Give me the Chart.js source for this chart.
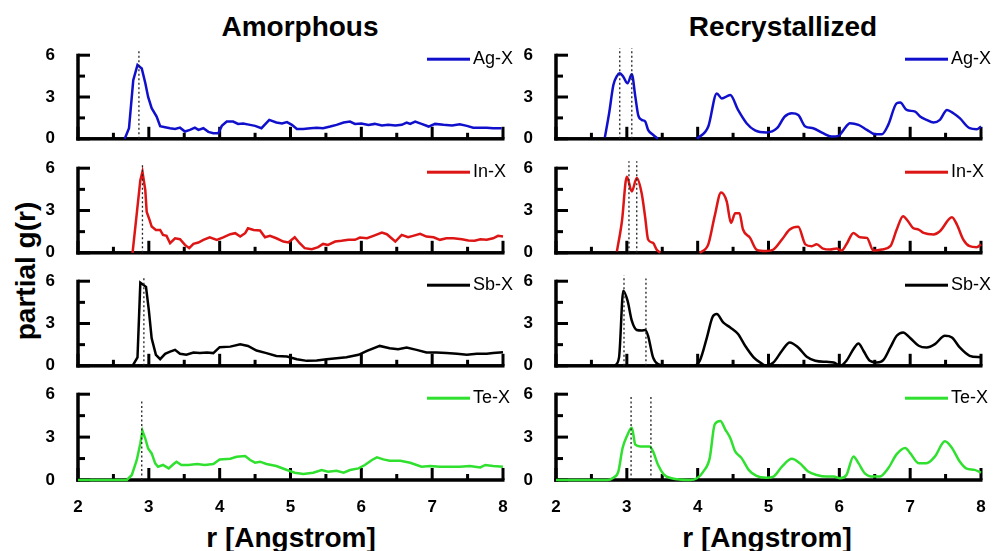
<!DOCTYPE html>
<html>
<head>
<meta charset="utf-8">
<script src="https://cdn.jsdelivr.net/npm/chart.js@4.4.0/dist/chart.umd.min.js"></script>
<style>
  body { margin: 0; background: #fff; width: 995px; height: 551px; overflow: hidden; position: relative;
         font-family: "Liberation Sans", Arial, Helvetica, sans-serif; }
  canvas { position: absolute; }
  .txt { position: absolute; font-weight: bold; white-space: nowrap; line-height: 1; color: #000;
         transform: translate(-50%, -50%); }
</style>
</head>
<body>
<div class="txt" style="left:300px;top:27px;font-size:28px">Amorphous</div>
<div class="txt" style="left:783px;top:27px;font-size:28px">Recrystallized</div>
<div class="txt" style="left:291px;top:538px;font-size:28px">r [Angstrom]</div>
<div class="txt" style="left:767px;top:538px;font-size:28px">r [Angstrom]</div>
<div class="txt" style="left:26px;top:271px;font-size:28px;transform:translate(-50%,-50%) rotate(-90deg)">partial g(r)</div>

<script>
// partial g(r), as [r, g] pairs (null = line hidden on the axis)
const agAmor = [[2.66,0],[2.72,0.76],[2.78,4.2],[2.84,5.3],[2.90,5.05],[2.95,4.0],[2.99,3.0],[3.04,2.2],[3.11,1.6],[3.16,0.9],[3.23,0.83],[3.30,0.76],[3.37,0.7],[3.44,0.8],[3.51,0.52],[3.58,0.64],[3.65,0.8],[3.70,0.64],[3.77,0.76],[3.84,0.5],[3.91,0.4],[3.98,0.4],[4.03,0.93],[4.10,1.24],[4.19,1.24],[4.26,1.07],[4.33,1.1],[4.43,1.0],[4.50,0.93],[4.59,0.76],[4.70,1.36],[4.80,1.17],[4.88,1.1],[4.95,1.2],[5.02,1.0],[5.09,0.7],[5.18,0.7],[5.28,0.76],[5.37,0.8],[5.46,0.76],[5.56,0.88],[5.65,1.0],[5.75,1.17],[5.84,1.24],[5.91,1.07],[6.00,1.1],[6.10,1.0],[6.19,1.07],[6.29,0.95],[6.38,1.0],[6.48,0.95],[6.57,1.0],[6.64,1.17],[6.69,1.07],[6.76,1.24],[6.85,1.07],[6.95,0.88],[7.04,1.07],[7.16,1.0],[7.28,0.95],[7.39,1.05],[7.49,0.93],[7.58,0.8],[7.68,0.8],[7.77,0.8],[7.86,0.76],[7.98,0.76]];
const inAmor = [[2.77,0],[2.83,2.8],[2.88,5.15],[2.91,5.75],[2.95,4.45],[2.97,2.9],[3.01,2.33],[3.04,1.86],[3.10,1.62],[3.16,1.62],[3.20,1.27],[3.25,1.2],[3.30,0.68],[3.37,1.03],[3.44,0.96],[3.51,0.56],[3.57,0.33],[3.63,0.63],[3.70,0.73],[3.77,0.92],[3.86,1.1],[3.96,0.92],[4.05,1.1],[4.15,1.32],[4.22,1.39],[4.29,1.15],[4.36,1.39],[4.40,1.74],[4.48,1.62],[4.57,1.58],[4.64,1.1],[4.71,1.2],[4.80,1.03],[4.90,0.8],[4.97,0.73],[5.06,1.1],[5.13,0.68],[5.20,0.33],[5.30,0.26],[5.39,0.4],[5.46,0.63],[5.53,0.56],[5.63,0.8],[5.72,0.85],[5.82,0.92],[5.91,0.92],[5.98,1.08],[6.08,1.03],[6.17,1.2],[6.29,1.43],[6.36,1.32],[6.48,0.8],[6.57,1.27],[6.66,1.1],[6.73,1.2],[6.83,1.34],[6.92,1.15],[7.02,1.1],[7.11,0.92],[7.20,1.03],[7.30,1.03],[7.42,0.96],[7.51,0.87],[7.60,0.85],[7.68,0.96],[7.77,0.92],[7.86,1.03],[7.93,1.2],[8.00,1.15]];
const sbAmor = [[2.77,0],[2.84,0.6],[2.88,5.9],[2.96,5.6],[3.00,3.95],[3.04,1.95],[3.10,0.78],[3.16,0.47],[3.23,0.85],[3.30,1.0],[3.37,1.13],[3.44,0.85],[3.53,0.78],[3.63,0.94],[3.72,0.9],[3.82,0.94],[3.91,0.9],[4.00,1.32],[4.15,1.36],[4.29,1.53],[4.40,1.41],[4.52,1.08],[4.66,0.9],[4.80,0.7],[4.95,0.66],[5.09,0.47],[5.23,0.35],[5.37,0.38],[5.51,0.47],[5.65,0.54],[5.79,0.6],[5.96,0.78],[6.08,1.06],[6.26,1.41],[6.40,1.25],[6.52,1.18],[6.64,1.29],[6.78,1.13],[6.92,0.94],[7.06,0.94],[7.20,0.9],[7.35,0.85],[7.49,0.78],[7.63,0.85],[7.77,0.85],[7.86,0.9],[8.00,0.96]];
const teAmor = [[2.00,0],[2.69,0],[2.76,0.35],[2.83,1.4],[2.88,2.56],[2.91,3.44],[2.95,2.9],[2.99,2.2],[3.04,1.86],[3.09,1.16],[3.13,0.93],[3.20,1.05],[3.28,0.81],[3.35,1.12],[3.39,1.28],[3.46,1.05],[3.56,1.05],[3.68,1.12],[3.79,1.05],[3.91,1.12],[4.00,1.44],[4.15,1.49],[4.24,1.63],[4.36,1.67],[4.43,1.4],[4.50,1.21],[4.57,1.28],[4.66,1.12],[4.80,0.98],[4.95,0.7],[5.06,0.51],[5.18,0.42],[5.32,0.51],[5.44,0.7],[5.53,0.58],[5.65,0.65],[5.75,0.51],[5.84,0.7],[5.96,0.81],[6.05,1.05],[6.15,1.4],[6.22,1.58],[6.31,1.44],[6.40,1.35],[6.55,1.35],[6.69,1.21],[6.85,0.93],[6.97,0.98],[7.11,0.93],[7.25,0.93],[7.39,0.93],[7.53,0.98],[7.68,0.88],[7.75,1.05],[7.86,0.98],[8.00,0.93]];

const agCryst = [[2.69,0.1],[2.75,1.83],[2.81,3.86],[2.86,4.5],[2.90,4.7],[2.95,4.45],[3.01,3.98],[3.07,4.64],[3.12,3.02],[3.16,1.71],[3.21,1.36],[3.26,1.24],[3.30,0.64],[3.37,0.29],[3.44,0],[3.70,null],[3.99,0],[4.15,0.88],[4.27,3.26],[4.34,2.9],[4.46,3.14],[4.57,2.07],[4.69,1.12],[4.81,0.6],[4.97,0.45],[5.12,0.76],[5.23,1.6],[5.33,1.83],[5.42,1.71],[5.52,0.88],[5.63,0.76],[5.77,0.4],[5.89,0.17],[5.99,0.21],[6.06,0.64],[6.15,1.12],[6.27,1.0],[6.39,0.64],[6.50,0.33],[6.60,0.33],[6.69,1.0],[6.81,2.55],[6.86,2.6],[6.95,2.07],[7.07,1.95],[7.14,1.6],[7.23,1.36],[7.33,1.17],[7.42,1.36],[7.52,2.07],[7.61,1.83],[7.70,1.48],[7.84,0.76],[7.94,0.69],[8.00,0.88]];
const inCryst = [[2.86,0.1],[2.93,2.2],[3.00,5.4],[3.07,4.35],[3.14,5.3],[3.21,4.2],[3.26,2.47],[3.30,0.94],[3.37,0.7],[3.42,0.23],[3.47,0],[3.75,null],[4.03,0],[4.15,0.6],[4.24,2.6],[4.33,4.28],[4.41,3.65],[4.47,2.12],[4.53,2.8],[4.59,2.8],[4.64,1.65],[4.74,1.06],[4.83,0.23],[4.97,0.12],[5.07,0.23],[5.19,0.94],[5.30,1.65],[5.42,1.84],[5.52,0.6],[5.61,0.47],[5.68,0.6],[5.77,0.3],[5.87,0.23],[5.96,0.3],[6.03,0.16],[6.10,0.6],[6.20,1.41],[6.29,1.1],[6.39,1.06],[6.48,0.16],[6.60,0.23],[6.72,0.47],[6.81,1.65],[6.90,2.6],[6.97,2.24],[7.04,1.76],[7.12,1.65],[7.19,1.41],[7.33,1.3],[7.42,1.53],[7.59,2.52],[7.66,2.0],[7.75,0.94],[7.84,0.47],[7.94,0.4],[8.00,0.6]];
const sbCryst = [[2.83,0],[2.89,0.6],[2.95,5.33],[3.01,4.62],[3.07,3.2],[3.14,2.54],[3.21,2.5],[3.26,2.54],[3.30,2.13],[3.37,0.6],[3.44,0.12],[3.56,0],[3.94,0],[4.03,0.36],[4.13,2.0],[4.21,3.46],[4.27,3.67],[4.36,3.08],[4.46,2.72],[4.57,2.25],[4.67,1.42],[4.79,0.6],[4.90,0.17],[4.97,0],[5.07,0.24],[5.19,1.07],[5.30,1.66],[5.42,1.3],[5.54,0.64],[5.66,0.36],[5.82,0.28],[5.92,0.24],[6.01,0],[6.10,0.36],[6.20,1.19],[6.27,1.59],[6.34,1.07],[6.43,0.36],[6.53,0.24],[6.62,0.4],[6.72,1.3],[6.81,2.13],[6.90,2.37],[7.00,1.97],[7.12,1.42],[7.23,1.3],[7.35,1.54],[7.49,2.13],[7.59,2.01],[7.70,1.3],[7.84,0.71],[8.00,0.6]];
const teCryst = [[2.00,0],[2.72,0],[2.81,0.16],[2.88,0.59],[2.94,2.24],[3.00,3.06],[3.07,3.65],[3.12,2.47],[3.19,2.35],[3.26,2.35],[3.32,2.35],[3.37,2.0],[3.44,1.06],[3.52,0.4],[3.63,0.12],[3.89,0],[3.99,0.12],[4.08,0.59],[4.17,1.53],[4.24,3.88],[4.32,4.12],[4.39,3.53],[4.46,2.94],[4.53,2.0],[4.62,1.53],[4.72,0.71],[4.83,0.28],[4.97,0.16],[5.07,0.24],[5.19,0.94],[5.33,1.48],[5.44,1.18],[5.56,0.59],[5.68,0.35],[5.82,0.24],[5.92,0.24],[6.01,0.12],[6.10,0.35],[6.20,1.65],[6.27,1.18],[6.36,0.47],[6.48,0.24],[6.57,0.24],[6.69,0.82],[6.81,1.81],[6.93,2.24],[7.00,1.88],[7.12,1.18],[7.23,1.18],[7.35,1.65],[7.49,2.71],[7.59,2.24],[7.70,1.29],[7.79,0.82],[7.91,0.71],[8.00,0.52]];

// dotted markers: r positions and how high they reach
const dotsAmor = [[2.86], [2.91], [2.93], [2.90]];
const dotsAmorTop = [[6.35], [6.35], [6.35], [5.65]];
const dotsCryst = [[2.90, 3.07], [3.03, 3.14], [2.96, 3.27], [3.06, 3.34]];
const dotsCrystTop = [[6.5, 6.5], [6.5, 6.5], [6.4, 6.2], [5.8, 5.8]];

const seriesNames = ["Ag-X", "In-X", "Sb-X", "Te-X"];
const seriesColors = ["#1010cc", "#dd1515", "#000000", "#2fe02f"];
const xTickLabels = [2, 3, 4, 5, 6, 7, 8];
const yTickLabels = [0, 3, 6];
const xMarks = [2, 2.5, 3, 3.5, 4, 4.5, 5, 5.5, 6, 6.5, 7, 7.5, 8];
const yMarks = [0, 1.5, 3, 4.5, 6];

// layout: page pixels of the g=6 and g=0 lines, and of r=2 per column
const FONT = '"Liberation Sans", Arial, Helvetica, sans-serif';
const row6 = [55, 168, 281, 394];
const row0 = [139, 253, 366, 480];
const PAD_TOP = 22;
const cols = [
  { left: 0, width: 520, axisX: 78, axisW: 78, padRight: 17, smooth: false },
  { left: 500, width: 495, axisX: 556, axisW: 56, padRight: 14, smooth: true },
];

const toXY = (arr) => arr.map((p) => ({ x: p[0], y: p[1] }));

// L-shaped axis with inward ticks (under the curves), legend on top
const panelDeco = {
  id: "panelDeco",
  beforeDatasetsDraw(chart) {
    const { ctx } = chart;
    const xs = chart.scales.x;
    const ys = chart.scales.y;
    const x2 = xs.getPixelForValue(2);
    const x8 = xs.getPixelForValue(8);
    const y0 = ys.getPixelForValue(0);
    const y6 = ys.getPixelForValue(6);
    ctx.save();
    ctx.fillStyle = "#000";
    ctx.fillRect(x2 - 1.75, y6 - 1.5, 3.5, y0 - y6 + 3.25);
    ctx.fillRect(x2 - 1.75, y0 - 1.75, x8 - x2 + 3.25, 3.5);
    yMarks.forEach((v) => {
      const py = ys.getPixelForValue(v);
      ctx.fillRect(x2, py - 1.5, v % 3 === 0 ? 12 : 7, 3);
    });
    xMarks.forEach((v) => {
      const px = xs.getPixelForValue(v);
      const len = Number.isInteger(v) ? 12 : 6;
      ctx.fillRect(px - 1.5, y0 - len, 3, len);
    });
    ctx.restore();
  },
  afterDatasetsDraw(chart, args, opts) {
    const { ctx, chartArea } = chart;
    const ly = chart.scales.y.getPixelForValue(6) + 4;
    ctx.save();
    ctx.fillStyle = opts.color;
    ctx.fillRect(chartArea.right - 76, ly - 1.5, 43, 3);
    ctx.fillStyle = "#000";
    ctx.font = "18px " + FONT;
    ctx.textBaseline = "middle";
    ctx.textAlign = "left";
    ctx.fillText(opts.name, chartArea.right - 30, ly);
    ctx.restore();
  },
};

function panelConfig(col, rowIdx, series, dots, dotTops) {
  const isBottom = rowIdx === 3;
  const tickFont = { size: 17, weight: "bold", family: FONT };
  const datasets = [
    {
      data: toXY(series),
      borderColor: seriesColors[rowIdx],
      borderWidth: 2.5,
      pointRadius: 0,
      tension: col.smooth ? 0.4 : 0,
      cubicInterpolationMode: col.smooth ? "monotone" : "default",
      spanGaps: false,
      order: 1,
      clip: false,
    },
  ];
  dots.forEach((r, i) => {
    datasets.push({
      data: [{ x: r, y: 0 }, { x: r, y: dotTops[i] }],
      borderColor: "#222",
      borderWidth: 1.3,
      borderDash: [2, 2.5],
      pointRadius: 0,
      order: 0,
      clip: false,
    });
  });
  return {
    type: "line",
    data: { datasets },
    options: {
      responsive: false,
      maintainAspectRatio: false,
      animation: false,
      events: [],
      layout: { padding: { top: PAD_TOP, right: col.padRight, left: 0, bottom: 0 } },
      plugins: {
        legend: { display: false },
        tooltip: { enabled: false },
        panelDeco: { name: seriesNames[rowIdx], color: seriesColors[rowIdx] },
      },
      scales: {
        x: {
          type: "linear",
          min: xTickLabels[0],
          max: xTickLabels[xTickLabels.length - 1],
          grid: { display: false },
          border: { display: false },
          ticks: { display: isBottom, stepSize: 1, padding: 9, color: "#000", font: tickFont },
          afterFit: (s) => { s.height = isBottom ? 40 : 12; },
        },
        y: {
          min: yTickLabels[0],
          max: yTickLabels[yTickLabels.length - 1],
          grid: { display: false },
          border: { display: false },
          ticks: { stepSize: 3, padding: 15, color: "#000", font: tickFont },
          afterFit: (s) => { s.width = col.axisW; },
        },
      },
    },
    plugins: [panelDeco],
  };
}

function makePanel(colIdx, rowIdx, series, dots, dotTops) {
  const col = cols[colIdx];
  const wantH = row0[rowIdx] - row6[rowIdx];
  const c = document.createElement("canvas");
  c.width = col.width;
  c.height = PAD_TOP + wantH + (rowIdx === 3 ? 40 : 12);
  document.body.appendChild(c);

  let chart = new Chart(c, panelConfig(col, rowIdx, series, dots, dotTops));
  // make the plot area exactly as tall as in the figure
  const dh = Math.round(wantH - (chart.chartArea.bottom - chart.chartArea.top));
  if (dh !== 0) {
    const h = c.height + dh;
    chart.destroy();
    c.width = col.width;
    c.height = h;
    chart = new Chart(c, panelConfig(col, rowIdx, series, dots, dotTops));
  }
  const ca = chart.chartArea;
  c.style.position = "absolute";
  c.style.top = Math.round(row6[rowIdx] - ca.top) + "px";
  c.style.left = Math.round(col.axisX - ca.left) + "px";
}

const amorSeries = [agAmor, inAmor, sbAmor, teAmor];
const crystSeries = [agCryst, inCryst, sbCryst, teCryst];
for (let i = 0; i < 4; i++) {
  makePanel(0, i, amorSeries[i], dotsAmor[i], dotsAmorTop[i]);
  makePanel(1, i, crystSeries[i], dotsCryst[i], dotsCrystTop[i]);
}
</script>
</body>
</html>
